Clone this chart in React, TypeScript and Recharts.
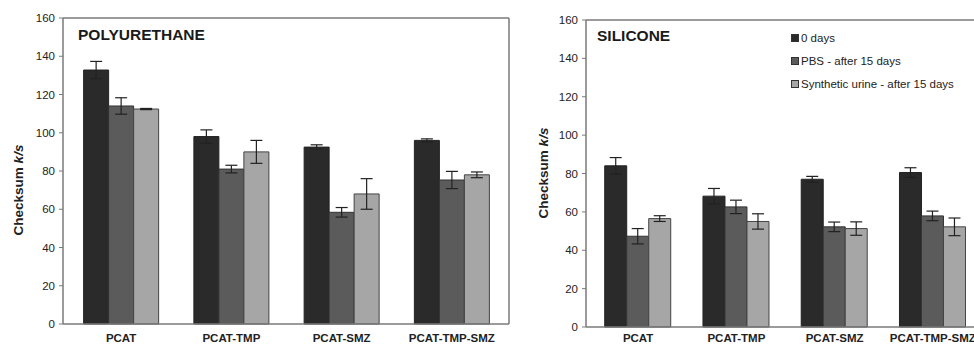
import { BarChart, Bar, XAxis, YAxis, ErrorBar } from 'recharts';

const categories = ['PCAT', 'PCAT-TMP', 'PCAT-SMZ', 'PCAT-TMP-SMZ'];
const seriesNames = ['0 days', 'PBS - after 15 days', 'Synthetic urine - after 15 days'];
const yTicks = [0, 20, 40, 60, 80, 100, 120, 140, 160];

// polyurethane
const puDay0 = [132.8, 98, 92.5, 96];
const puDay0Err = [4.5, 3.5, 1.2, 0.8];
const puPbs = [114, 81, 58.4, 75.3];
const puPbsErr = [4.3, 2, 2.5, 4.5];
const puUrine = [112.4, 90, 68, 78];
const puUrineErr = [0.3, 6, 8, 1.5];

// silicone
const siDay0 = [84, 68.2, 77, 80.5];
const siDay0Err = [4.3, 4, 1.5, 2.5];
const siPbs = [47.3, 62.6, 52.2, 57.9];
const siPbsErr = [4, 3.5, 2.5, 2.5];
const siUrine = [56.5, 55, 51.3, 52.2];
const siUrineErr = [1.5, 4, 3.5, 4.6];

const colors = ['#2a2a2a', '#5b5b5b', '#a6a6a6'];
const font = '"Liberation Sans", Arial, sans-serif';
const axisColor = '#7a7a7a';

const buildRows = (a: number[], ae: number[], b: number[], be: number[], c: number[], ce: number[]) =>
  categories.map((name, i) => ({ name, d0: a[i], d0e: ae[i], pbs: b[i], pbse: be[i], uri: c[i], urie: ce[i] }));

const puData = buildRows(puDay0, puDay0Err, puPbs, puPbsErr, puUrine, puUrineErr);
const siData = buildRows(siDay0, siDay0Err, siPbs, siPbsErr, siUrine, siUrineErr);

const YLabel = ({ x, y }: { x: number; y: number }) => (
  <text
    x={x}
    y={y}
    transform={`rotate(-90 ${x} ${y})`}
    textAnchor="middle"
    dominantBaseline="central"
    fontFamily={font}
    fontWeight="bold"
    fontSize={13.5}
    fill="#222"
  >
    Checksum <tspan fontStyle="italic">k/s</tspan>
  </text>
);

type PanelProps = {
  data: typeof puData;
  width: number;
  top: number;
  right: number;
  yWidth: number;
  xHeight: number;
  labelGap: number;
  labelX: number;
  labelY: number;
  pad: { left: number; right: number };
};

const Panel = ({ data, width, top, right, yWidth, xHeight, labelGap, labelX, labelY, pad }: PanelProps) => (
  <BarChart
    width={width}
    height={345}
    data={data}
    margin={{ top, right, bottom: 0, left: 0 }}
    barCategoryGap="16%"
    barGap={0}
  >
    <XAxis
      dataKey="name"
      height={xHeight}
      padding={pad}
      tickLine={false}
      tickSize={0}
      tickMargin={labelGap}
      interval={0}
      axisLine={{ stroke: axisColor, strokeWidth: 1.5 }}
      tick={{ fontFamily: font, fontSize: 11.5, fontWeight: 'bold', fill: '#222' }}
    />
    <XAxis xAxisId="frame" orientation="top" dataKey="name" height={1} tick={false} tickLine={false}
      axisLine={{ stroke: axisColor, strokeWidth: 1.5 }} />
    <YAxis
      domain={[0, 160]}
      ticks={yTicks}
      width={yWidth}
      tickSize={4}
      tickMargin={4}
      tickLine={{ stroke: axisColor }}
      axisLine={{ stroke: axisColor, strokeWidth: 1.5 }}
      tick={{ fontFamily: font, fontSize: 11.5, fill: '#222' }}
      label={{ content: () => <YLabel x={labelX} y={labelY} /> }}
    />
    <YAxis yAxisId="frame" orientation="right" domain={[0, 160]} width={1} tick={false} tickLine={false}
      axisLine={{ stroke: axisColor, strokeWidth: 1.5 }} />
    <Bar dataKey="d0" fill={colors[0]} stroke="#222" strokeWidth={1} isAnimationActive={false}>
      <ErrorBar dataKey="d0e" width={6} stroke="#222" strokeWidth={1.2} />
    </Bar>
    <Bar dataKey="pbs" fill={colors[1]} stroke="#333" strokeWidth={1} isAnimationActive={false}>
      <ErrorBar dataKey="pbse" width={6} stroke="#222" strokeWidth={1.2} />
    </Bar>
    <Bar dataKey="uri" fill={colors[2]} stroke="#444" strokeWidth={1} isAnimationActive={false}>
      <ErrorBar dataKey="urie" width={6} stroke="#222" strokeWidth={1.2} />
    </Bar>
  </BarChart>
);

const titleStyle = {
  position: 'absolute' as const,
  fontFamily: font,
  fontWeight: 'bold' as const,
  fontSize: 15.5,
  lineHeight: '16px',
  color: '#1a1a1a',
};

export default function App() {
  return (
    <div style={{ position: 'absolute', top: 0, left: 0, width: 974, height: 345, overflow: 'hidden', background: '#fff' }}>
      <div style={{ position: 'absolute', left: 0, top: 0 }}>
        <Panel data={puData} width={515} top={17} right={5} yWidth={63} xHeight={21} labelGap={10}
          labelX={18} labelY={190} pad={{ left: 3, right: 2 }} />
      </div>
      <div style={{ position: 'absolute', left: 515, top: 0 }}>
        <Panel data={siData} width={480} top={19} right={10} yWidth={71} xHeight={18} labelGap={7}
          labelX={28} labelY={173} pad={{ left: 3, right: 2 }} />
      </div>
      <div style={{ ...titleStyle, left: 78, top: 27 }}>POLYURETHANE</div>
      <div style={{ ...titleStyle, left: 597, top: 28 }}>SILICONE</div>
      <div style={{ position: 'absolute', left: 791, top: 26, fontFamily: font, fontSize: 11.5, color: '#222' }}>
        {seriesNames.map((n, i) => (
          <div key={n} style={{ display: 'flex', alignItems: 'center', height: 23 }}>
            <span style={{ width: 6, height: 6, background: colors[i], border: '1px solid #333', marginRight: 2 }} />
            {n}
          </div>
        ))}
      </div>
    </div>
  );
}
